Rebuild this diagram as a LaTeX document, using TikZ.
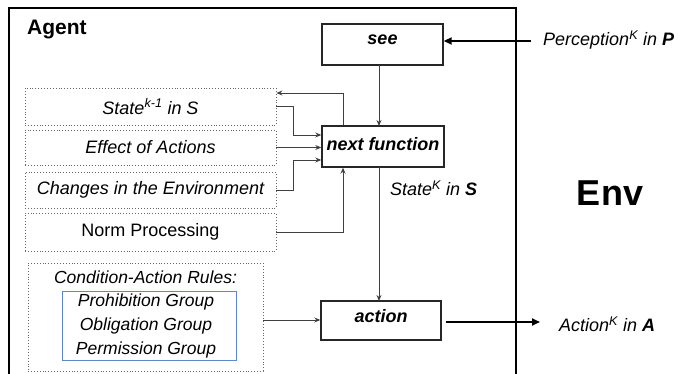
\documentclass[tikz,border=0pt]{standalone}
\usepackage{fontspec}
\setmainfont{Liberation Sans}
\usetikzlibrary{arrows.meta}

\newcommand{\fs}[1]{\fontsize{#1}{#1}\selectfont}

\tikzset{
  funcbox/.style={draw=black!85, line width=1.4pt, inner sep=0pt, font=\fs{18}\bfseries\itshape},
  dotbox/.style={draw=black!60, dotted, line width=0.9pt, inner sep=0pt, font=\fs{18}\itshape},
  rulebox/.style={draw={rgb,255:red,95;green,135;blue,200}, line width=0.9pt, inner sep=0pt},
  thinarrow/.style={draw=black!75, line width=0.9pt, -{Stealth[length=6pt,width=5pt]}},
  thickarrow/.style={draw=black, line width=1.8pt, -{Triangle[length=8pt,width=7pt]}},
  lbl/.style={inner sep=0pt, font=\fs{18}\itshape},
}

\begin{document}
\begin{tikzpicture}[x=1pt,y=-1pt]
  \useasboundingbox (0,0) rectangle (680,374);
  \clip (0,0) rectangle (680,374);

  % the agent's frame, running off the lower edge
  \draw[line width=2pt] (9,385) -- (9,8) -- (516,8) -- (516,385);
  \node[anchor=west, inner sep=0pt, font=\fs{21}\bfseries] (agent) at (27,30) {Agent};
  \node[inner sep=0pt, font=\fs{36}\bfseries] (env) at (610,193) {Env};

  % function boxes
  \node[funcbox, minimum width=121pt, minimum height=41pt] (see) at (382.5,44.5) {};
  \node[inner sep=0pt, font=\fs{18}\bfseries\itshape] (seet) at (382.5,40) {see};
  \node[funcbox, minimum width=122pt, minimum height=41pt] (next) at (383,146.5) {};
  \node[inner sep=0pt, font=\fs{18}\bfseries\itshape] (nextt) at (383,144) {next function};
  \node[funcbox, minimum width=120pt, minimum height=39pt] (action) at (381,320.5) {};
  \node[inner sep=0pt, font=\fs{18}\bfseries\itshape] (actiont) at (381,316) {action};

  % inputs to the next function
  \node[dotbox, minimum width=251pt, minimum height=37pt] (state) at (150.5,106.5)
    {State\textsuperscript{k-1} in S};
  \node[dotbox, minimum width=251pt, minimum height=35pt] (effect) at (150.5,147.5)
    {Effect of Actions};
  \node[dotbox, minimum width=251pt, minimum height=36pt] (changes) at (150.5,190)
    {Changes in the Environment};
  \node[dotbox, minimum width=251pt, minimum height=38pt, font=\fs{18}] (norm) at (150.5,232)
    {Norm Processing};

  % condition-action rules
  \node[dotbox, minimum width=235pt, minimum height=108pt] (rules) at (145.5,317) {};
  \node[lbl, font=\fs{17.5}\itshape] (rulest) at (145.5,277) {Condition-Action Rules:};
  \node[rulebox, minimum width=174pt, minimum height=69pt] (groups) at (149,325.5) {};
  \node[lbl, font=\fs{17.5}\itshape] (g1) at (146,302) {Prohibition Group};
  \node[lbl, font=\fs{17.5}\itshape] (g2) at (146,326) {Obligation Group};
  \node[lbl, font=\fs{17.5}\itshape] (g3) at (146,350) {Permission Group};

  % outside labels
  \node[lbl, anchor=west] (perc) at (543,40)
    {Perception\textsuperscript{K} in \textbf{P}};
  \node[lbl, anchor=west] (act) at (559,324)
    {Action\textsuperscript{K} in \textbf{A}};
  \node[lbl, anchor=west] (statek) at (390,188)
    {State\textsuperscript{K} in \textbf{S}};

  % connectors
  \coordinate (percin) at (531,41);
  \coordinate (actout) at (540,322);
  \draw[thickarrow] (percin) -- (see.east |- percin);
  \draw[thickarrow] (action.east |- actout) ++(4,0) -- (actout);

  \draw[thinarrow] (379,65) -- (379,126);
  \draw[thinarrow] (379,167) -- (379,301);

  \draw[thinarrow] (next.north -| 343,0) |- (state.east |- 0,93);
  \draw[thinarrow] (state.east |- 0,106) -| (293,135) -- (next.west |- 0,135);
  \draw[thinarrow] (effect.east) -- (next.west |- effect.east);
  \draw[thinarrow] (changes.east |- 0,190) -| (293,160) -- (next.west |- 0,160);
  \draw[thinarrow] (norm.east) -| (next.south -| 343,0);
  \draw[thinarrow] (rules.east |- 0,320) -- (action.west |- 0,320);
\end{tikzpicture}
\end{document}
